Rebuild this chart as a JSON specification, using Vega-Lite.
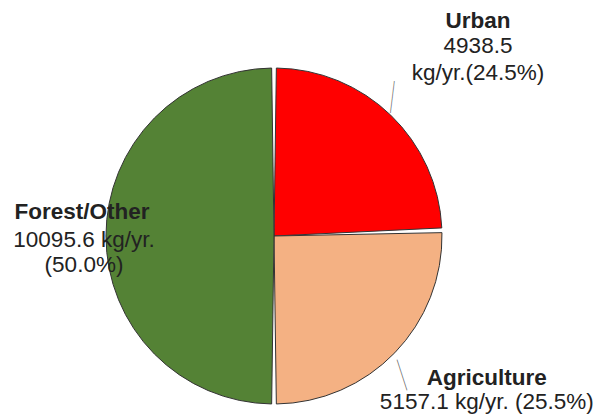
{
  "$schema": "https://vega.github.io/schema/vega-lite/v6.json",
  "width": 548,
  "height": 368,
  "autosize": "none",
  "padding": {"left": 0, "top": 52, "right": 58, "bottom": 0},
  "background": "white",
  "view": {"stroke": null},
  "config": {"text": {"font": "Liberation Sans", "fontSize": 22.5, "color": "#222222", "align": "center", "baseline": "middle", "lineHeight": 27, "lineBreak": "\n"}},
  "data": {"values": [
    {"category": "Urban", "value": 4938.5, "detail": "4938.5\nkg/yr.(24.5%)", "order": 1},
    {"category": "Agriculture", "value": 5157.1, "detail": "5157.1 kg/yr. (25.5%)", "order": 2},
    {"category": "Forest/Other", "value": 10095.6, "detail": "10095.6 kg/yr.\n(50.0%)", "order": 3}
  ]},
  "encoding": {
    "theta": {"field": "value", "type": "quantitative", "stack": true},
    "order": {"field": "order", "type": "quantitative"}
  },
  "layer": [
    {
      "mark": {"type": "arc", "outerRadius": 168, "padAngle": 0.028, "stroke": "#333333", "strokeWidth": 1},
      "encoding": {
        "color": {"field": "category", "type": "nominal", "legend": null,
          "scale": {"domain": ["Urban", "Agriculture", "Forest/Other"], "range": ["#FF0000", "#F4B183", "#548235"]}}
      }
    },
    {
      "mark": {"type": "text", "radius": 200, "dx": 65, "dy": -71, "fontWeight": "bold"},
      "encoding": {"text": {"condition": {"test": "datum.category === 'Urban'", "field": "category"}, "value": ""}}
    },
    {
      "mark": {"type": "text", "radius": 200, "dx": 65, "dy": -46},
      "encoding": {"text": {"condition": {"test": "datum.category === 'Urban'", "field": "detail"}, "value": ""}}
    },
    {
      "mark": {"type": "text", "radius": 200, "dx": 69, "dy": 3, "fontWeight": "bold"},
      "encoding": {"text": {"condition": {"test": "datum.category === 'Agriculture'", "field": "category"}, "value": ""}}
    },
    {
      "mark": {"type": "text", "radius": 200, "dx": 69, "dy": 27},
      "encoding": {"text": {"condition": {"test": "datum.category === 'Agriculture'", "field": "detail"}, "value": ""}}
    },
    {
      "mark": {"type": "text", "radius": 200, "dx": 8, "dy": -24, "fontWeight": "bold"},
      "encoding": {"text": {"condition": {"test": "datum.category === 'Forest/Other'", "field": "category"}, "value": ""}}
    },
    {
      "mark": {"type": "text", "radius": 200, "dx": 10, "dy": 4, "lineHeight": 25},
      "encoding": {"text": {"condition": {"test": "datum.category === 'Forest/Other'", "field": "detail"}, "value": ""}}
    },
    {
      "mark": {"type": "text", "radius": 200, "dx": -20, "dy": 9, "angle": 7, "font": "Inter", "fontWeight": 100, "fontSize": 27, "color": "#555555"},
      "encoding": {"text": {"condition": {"test": "datum.category === 'Urban'", "value": "|"}, "value": ""}}
    },
    {
      "mark": {"type": "text", "radius": 200, "dx": -15, "dy": -3, "angle": -18, "font": "Inter", "fontWeight": 100, "fontSize": 27, "color": "#555555"},
      "encoding": {"text": {"condition": {"test": "datum.category === 'Agriculture'", "value": "|"}, "value": ""}}
    }
  ]
}
